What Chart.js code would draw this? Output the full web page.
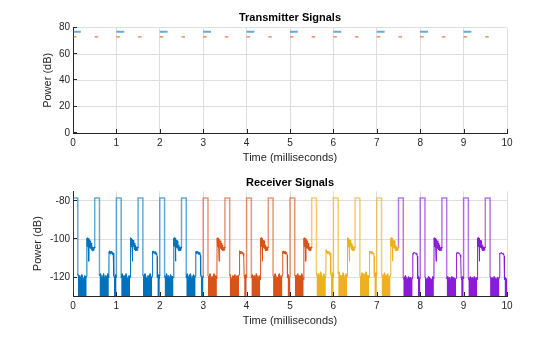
<!DOCTYPE html>
<html><head><meta charset="utf-8">
<script src="https://cdn.jsdelivr.net/npm/chart.js@4/dist/chart.umd.min.js"></script>
<style>
html,body{margin:0;padding:0;background:#fff;width:560px;height:337px;overflow:hidden}
canvas{position:absolute;left:0}
#c1{top:0}
#c2{top:168px}
</style></head><body>
<canvas id="c1" width="560" height="168"></canvas>
<canvas id="c2" width="560" height="169"></canvas>
<script>
// ---------- DATA ----------
const xTicks = [0,1,2,3,4,5,6,7,8,9,10];
const txYTicks = [0,20,40,60,80];
const rxYTicks = [-120,-100,-80];

// Transmitter signals (ms, dB)
const txAStart = [0,1,2,3,4,5,6,7,8,9];
const txADur = 0.18;
const txALevel = 77;
const txBStart = [0,0.5,1,1.5,2,2.5,3,3.5,4,4.5,5,5.5,6,6.5,7,7.5,8,8.5,9,9.5];
const txBDur = 0.08;
const txBLevel = 73;

// Receiver signals
const rxPulseStart = [0,0.5,1,1.5,2,2.5,3,3.5,4,4.5,5,5.5,6,6.5,7,7.5,8,8.5,9,9.5];
const rxPulseDur = 0.11;
const rxPulseLevel = -78.5;
const rxBandStart = [0,3,5.5,7.5];           // blue, orange, yellow, purple segments
const rxFloor = -131;

// echo after pulses at whole ms (relative time ms, dB)
const nearEchoT  = [0.320,0.326,0.332,0.338,0.344,0.350,0.356,0.362,0.366,0.370,0.378,0.386,0.394,0.402,0.410,0.418,0.426,0.434,0.442,0.452,0.462,0.472,0.482,0.492,0.500];
const nearEchoDb = [-99.5,-103.5,-99.2,-104,-99.8,-102.5,-99.5,-104.5,-111.5,-100.2,-104.5,-100.5,-103.8,-100.8,-104.8,-102,-105.5,-103,-106,-104,-106,-104.2,-105.8,-104,-104.6];
// echo after pulses at half ms
const farEchoT  = [0.330,0.338,0.346,0.354,0.362,0.370,0.378,0.386,0.394,0.402,0.410,0.418,0.426,0.434,0.440];
const farEchoDb = [
  [-106.5,-107.5,-106,-107.2,-106.4,-107.8,-106.6,-107.3,-106.2,-107.6,-106.8,-108,-107.2,-108.5,-109],
  [-106.2,-107.8,-106.4,-107,-106.1,-107.5,-106.9,-107.1,-106.5,-107.9,-106.6,-107.7,-107.4,-108.2,-109],
  [-106.4,-107.1,-106.2,-107.6,-106.8,-107.2,-106.3,-107.9,-106.7,-107.4,-106.9,-108.1,-107,-108.4,-109],
  [-106,-107.4,-106.5,-107.1,-106.3,-107.7,-106.5,-107.2,-106.6,-107.5,-106.7,-107.9,-107.3,-108.1,-109],
  [-106.3,-107.6,-106.1,-107.3,-106.6,-107.4,-106.4,-107.8,-106.3,-107.3,-106.9,-107.8,-107.1,-108.3,-109],
  [-105.5,-107.2,-106.3,-107.5,-106.2,-107.6,-106.7,-107.2,-106.4,-107.7,-106.5,-108,-107.2,-108.5,-109],
  [-106.2,-107.3,-106.4,-107.2,-106.5,-107.6,-106.3,-107.5,-106.6,-107.4,-106.8,-107.9,-107.2,-108.2,-109],
  [-107.5,-107.8,-107,-107.3,-106.9,-107.2,-107,-107.4,-107.1,-107.6,-107.4,-108,-108.1,-108.8,-109.5],
  [-107.4,-107.9,-107.1,-107.2,-106.8,-107.3,-107.1,-107.5,-107.2,-107.5,-107.6,-108.1,-108.3,-108.9,-109.5],
  [-107.3,-107.7,-107.2,-107.4,-106.9,-107.1,-107,-107.6,-107.3,-107.7,-107.5,-108.2,-108.2,-108.7,-109.5]
];
// noise floor tops after each pulse (long gap) and before next pulse (short gap, half-ms pulses)
const noiseLong = [
  [-118,-120,-119,-121,-118.5,-120,-122,-119,-120,-119.5],
  [-119,-118,-120.5,-120,-118,-122,-119,-120.5,-118,-120],
  [-120,-118,-120,-119,-121,-118,-120.5,-121,-119,-120],
  [-118.5,-120,-118,-120,-121,-119,-120,-118,-121,-119],
  [-119,-120.5,-118,-120.5,-119,-121.5,-118.5,-120,-119.5,-120],
  [-120,-118,-120.5,-119,-118,-121,-120,-118.5,-120,-119],
  [-119,-120,-118,-121,-119.5,-120,-118,-121,-119,-120.5],
  [-118,-120,-121,-119,-120,-118.5,-121.5,-119,-120,-118.5],
  [-120,-118.5,-120,-119,-121,-118,-120,-120.5,-119,-121],
  [-119,-120,-118,-120,-121,-119.5,-118,-120,-120,-118.5],
  [-118.5,-120,-119,-118,-121,-119,-120,-118,-120,-121],
  [-117.5,-119.5,-118,-120,-117,-119,-120.5,-118,-120,-119],
  [-118,-117,-119.5,-119,-120.5,-117.5,-119.5,-120.5,-118,-119.5],
  [-119,-120,-117.5,-119.5,-118,-120.5,-117,-119.5,-119,-120],
  [-118,-120,-119,-117.5,-120,-119.5,-118,-120.5,-120,-118.5],
  [-120,-121,-119,-120.5,-121.5,-119.5,-120.5,-120,-121,-119.5],
  [-119.5,-120.5,-121.5,-120,-119.5,-121,-120.5,-122,-119.5,-120.5],
  [-120.5,-119.5,-121,-120,-122,-119.5,-120.5,-120,-121,-120.5],
  [-120,-121.5,-119.5,-120.5,-120,-121.5,-119.5,-121,-120,-121],
  [-119.5,-120.5,-120,-121.5,-119.5,-120.5,-121.5,-120,-121,-119.5]
];
const noiseShort = [
  [-119,-120.5,-118.5,-120],[-120,-118.5,-120.5,-119],[-118.5,-120,-121,-119],[-119,-120.5,-118.5,-120],
  [-120,-118.5,-120.5,-119.5],[-118,-120,-117.5,-120],[-119.5,-117.5,-119.5,-118.5],[-120.5,-119.5,-121,-120],
  [-120,-121,-119.5,-120.5],[-121,-120,-121.5,-120.5]
];
const bandColors = ['#0072BD','#D95319','#EDB120','#8A1BD6'];
const bandLight  = ['rgba(0,114,189,0.6)','rgba(217,83,25,0.6)','rgba(237,177,32,0.65)','rgba(138,27,214,0.6)'];
const txColors = ['rgba(0,114,189,0.6)','#D95319'];

// ---------- BUILD ----------
function segs(starts, dur, level){
  const d=[];
  starts.forEach(s=>{ d.push({x:s,y:level},{x:s+dur,y:level},{x:s+dur,y:null}); });
  return d;
}
const rxSig=[[],[],[],[]], rxNoise=[[],[],[],[]];
(function(){
  let last = rxFloor, half = 0;
  const W = rxPulseDur, L = rxPulseLevel;
  rxPulseStart.forEach((s,k)=>{
    let b = 0; rxBandStart.forEach((bs,i)=>{ if (s>=bs-1e-9) b=i; });
    const sig = rxSig[b], nz = rxNoise[b];
    if (sig.length===0) sig.push({x:s,y:last});
    sig.push({x:s,y:L},{x:s+W,y:L});
    const whole = (k%2===0);
    const nEnd = (whole ? nearEchoT[0] : farEchoT[0]) - 0.004;
    const nl = noiseLong[k];
    nl.forEach((v,i)=>{
      const p = {x: s + W + i*(nEnd - W)/(nl.length-1), y: v};
      sig.push(p); nz.push({x:p.x,y:p.y});
    });
    nz.push({x:s+nEnd,y:null});
    if (whole){
      nearEchoT.forEach((t,j)=>sig.push({x:s+t,y:nearEchoDb[j]}));
      last = nearEchoDb[nearEchoDb.length-1];
    } else {
      const fe = farEchoDb[half];
      farEchoT.forEach((t,j)=>sig.push({x:s+t,y:fe[j]}));
      const ns = noiseShort[half];
      const a = farEchoT[farEchoT.length-1]+0.004, e = 0.5;
      ns.forEach((v,i)=>{
        const p = {x: s + a + i*(e-a)/(ns.length-1), y: v};
        sig.push(p); nz.push({x:p.x,y:p.y});
      });
      nz.push({x:s+e,y:null});
      last = ns[ns.length-1];
      half++;
    }
  });
})();

// ---------- CHARTS ----------
Chart.defaults.font.family = "'Liberation Sans', Arial, Helvetica, sans-serif";
Chart.defaults.color = '#262626';

const inTicks = {
  id:'inTicks',
  afterDraw(chart){
    const {ctx, chartArea:a, scales:{x,y}} = chart;
    ctx.save(); ctx.strokeStyle='#262626'; ctx.lineWidth=1; ctx.beginPath();
    x.ticks.forEach(t=>{ const px = Math.round(x.getPixelForValue(t.value))+0.5; ctx.moveTo(px, a.bottom); ctx.lineTo(px, a.bottom-4); });
    y.ticks.forEach(t=>{ const py = Math.round(y.getPixelForValue(t.value))-0.5; ctx.moveTo(a.left, py); ctx.lineTo(a.left+4, py); });
    ctx.stroke(); ctx.restore();
  }
};

function makeOpts(cfg){
  return {
    responsive:false, animation:false, maintainAspectRatio:false,
    layout:{padding:{left:0,right:53,top:0,bottom:0}},
    elements:{point:{radius:0}, line:{tension:0}},
    plugins:{
      legend:{display:false}, tooltip:{enabled:false},
      title:{display:true, fullSize:false, text:cfg.title, color:'#000', font:{size:11, weight:'bold'}, padding:cfg.titlePad}
    },
    scales:{
      x:{
        type:'linear', min:0, max:10,
        afterBuildTicks: s => { s.ticks = xTicks.map(v=>({value:v})); },
        afterFit: s => { s.height = cfg.xHeight; },
        ticks:{padding:4, font:{size:10}, color:'#262626', maxRotation:0, autoSkip:false},
        grid:{color:'#dedede', drawTicks:false},
        border:{color:'#262626', width:1},
        title:{display:true, text:'Time (milliseconds)', color:'#262626', font:{size:11}, padding:{top:0,bottom:cfg.xTitlePad}}
      },
      y:{
        type:'linear', min:cfg.ymin, max:cfg.ymax,
        afterBuildTicks: s => { s.ticks = cfg.yTicks.map(v=>({value:v})); },
        afterFit: s => { s.width = 73; },
        ticks:{padding:3, font:{size:10}, color:'#262626'},
        grid:{color:'#dedede', drawTicks:false},
        border:{color:'#262626', width:1},
        title:{display:true, text:'Power (dB)', color:'#262626', font:{size:11}, padding:{top:cfg.yTitlePad,bottom:0}}
      }
    }
  };
}

new Chart(document.getElementById('c1'), {
  type:'line',
  data:{datasets:[
    {data:segs(txAStart, txADur, txALevel), borderColor:txColors[0], borderWidth:2, spanGaps:false, fill:false},
    {data:segs(txBStart, txBDur, txBLevel), borderColor:txColors[1], borderWidth:1, spanGaps:false, fill:false}
  ]},
  options:makeOpts({title:'Transmitter Signals', titlePad:{top:11.2,bottom:3.3}, xHeight:35, xTitlePad:3.4,
    ymin:0, ymax:80, yTicks:txYTicks, yTitlePad:41.1}),
  plugins:[inTicks]
});

const rxSets = [];
for (let b=0;b<4;b++){
  const light = bandLight[b];
  rxSets.push({data:rxSig[b], borderColor:bandColors[b], borderWidth:1, spanGaps:false, fill:false, clip:0,
    segment:{
      borderColor: c => (c.p0.parsed.y === rxPulseLevel || c.p1.parsed.y === rxPulseLevel) ? light : undefined,
      borderWidth: c => (c.p0.parsed.y === rxPulseLevel || c.p1.parsed.y === rxPulseLevel) ? 1.5 : undefined
    }});
  rxSets.push({data:rxNoise[b], borderColor:bandColors[b], backgroundColor:bandColors[b], borderWidth:1, spanGaps:false, fill:'start', clip:0});
}
new Chart(document.getElementById('c2'), {
  type:'line',
  data:{datasets:rxSets},
  options:makeOpts({title:'Receiver Signals', titlePad:{top:8.4,bottom:1.8}, xHeight:41, xTitlePad:9.4,
    ymin:-129.6, ymax:-75.1, yTicks:rxYTicks, yTitlePad:31.4}),
  plugins:[inTicks]
});
</script>
</body></html>
